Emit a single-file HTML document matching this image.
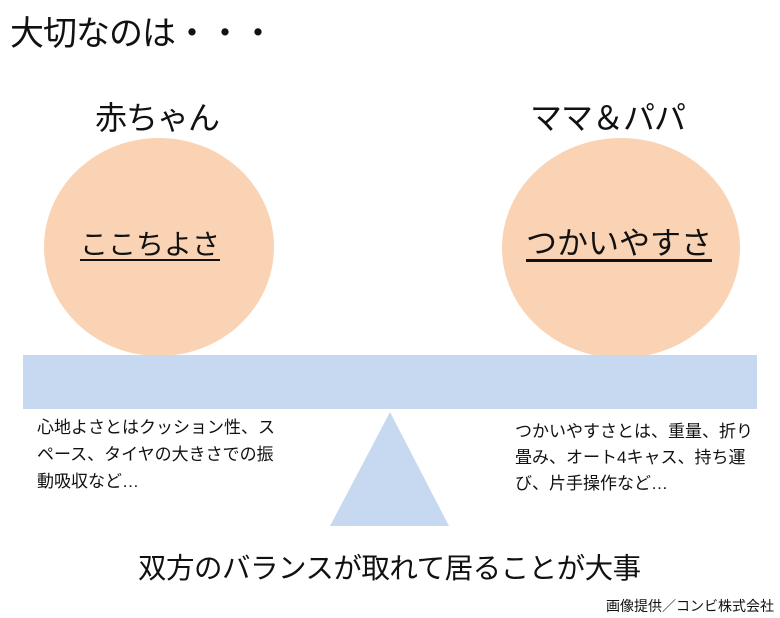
<!DOCTYPE html>
<html><head><meta charset="utf-8"><style>
body{margin:0;width:780px;height:618px;background:#fff;position:relative;overflow:hidden;font-family:"Liberation Sans","Noto Sans CJK JP",sans-serif;color:#111}
.t{position:absolute;white-space:nowrap;line-height:1}
.c{position:absolute;background:#f9d3b4;border-radius:50%}
</style></head><body>
<div class="t" style="left:10px;top:17px;font-size:34px;letter-spacing:-1px">大切なのは・・・</div>
<div class="t" style="left:95px;top:102px;font-size:32px;letter-spacing:-1px">赤ちゃん</div>
<div class="t" style="left:530px;top:102px;font-size:32px;letter-spacing:-1px">ママ＆パパ</div>
<div class="c" style="left:44px;top:138px;width:230px;height:218px"></div>
<div class="c" style="left:502px;top:138px;width:238px;height:220px"></div>
<div class="t" style="left:80px;top:231px;font-size:28px;text-decoration:underline;text-underline-offset:5px">ここちよさ</div>
<div class="t" style="left:526px;top:228px;font-size:31px;text-decoration:underline;text-underline-offset:5px">つかいやすさ</div>
<div style="position:absolute;left:23px;top:355px;width:734px;height:54px;background:#c6d9f0"></div>
<svg style="position:absolute;left:0;top:0" width="780" height="618"><polygon points="390,412 330,526 449,526" fill="#c6d9f0"/></svg>
<div class="t" style="left:37px;top:414px;font-size:17px;line-height:27px">心地よさとはクッション性、ス<br>ペース、タイヤの大きさでの振<br>動吸収など…</div>
<div class="t" style="left:515px;top:419px;font-size:17px;line-height:26px">つかいやすさとは、重量、折り<br>畳み、オート4キャス、持ち運<br>び、片手操作など…</div>
<div class="t" style="left:138px;top:555px;font-size:28.5px;letter-spacing:-0.5px">双方のバランスが取れて居ることが大事</div>
<div class="t" style="left:606px;top:599px;font-size:14px">画像提供／コンビ株式会社</div>
</body></html>
